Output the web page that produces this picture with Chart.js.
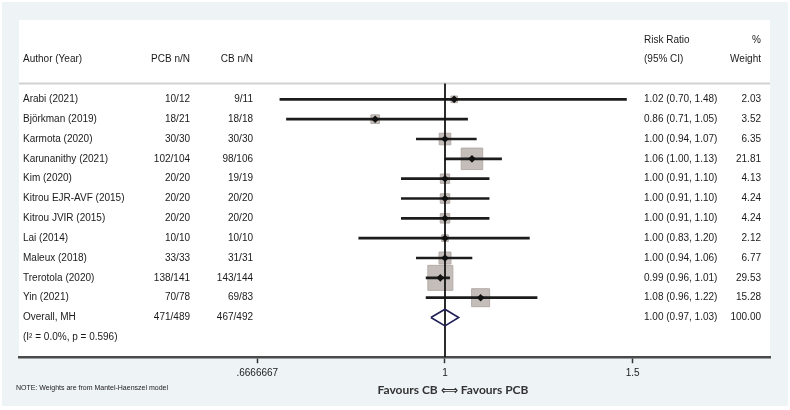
<!DOCTYPE html>
<html>
<head>
<meta charset="utf-8">
<script src="https://cdn.jsdelivr.net/npm/chart.js@4"></script>
<style>
  body { margin: 0; background: #fff; }
  #wrap { width: 790px; height: 410px; position: relative; }
</style>
</head>
<body>
<div id="wrap"><canvas id="myChart"></canvas></div>
<script>
const authors = ['Arabi (2021)', 'Björkman (2019)', 'Karmota (2020)', 'Karunanithy (2021)', 'Kim (2020)',
  'Kitrou EJR-AVF (2015)', 'Kitrou JVIR (2015)', 'Lai (2014)', 'Maleux (2018)', 'Trerotola (2020)', 'Yin (2021)'];
const pcb = ['10/12', '18/21', '30/30', '102/104', '20/20', '20/20', '20/20', '10/10', '33/33', '138/141', '70/78'];
const cb = ['9/11', '18/18', '30/30', '98/106', '19/19', '20/20', '20/20', '10/10', '31/31', '143/144', '69/83'];
const rr = [1.02, 0.86, 1.00, 1.06, 1.00, 1.00, 1.00, 1.00, 1.00, 0.99, 1.08];
const lo = [0.70, 0.71, 0.94, 1.00, 0.91, 0.91, 0.91, 0.83, 0.94, 0.96, 0.96];
const hi = [1.48, 1.05, 1.07, 1.13, 1.10, 1.10, 1.10, 1.20, 1.06, 1.01, 1.22];
const weights = [2.03, 3.52, 6.35, 21.81, 4.13, 4.24, 4.24, 2.12, 6.77, 29.53, 15.28];

const overall = { label: 'Overall, MH', pcb: '471/489', cb: '467/492', rr: 1.00, lo: 0.97, hi: 1.03, weight: 100.00 };
const hetText = '(I\u00B2 = 0.0%, p = 0.596)';

const xTicks = [0.6666667, 1, 1.5];
const xTickLabels = ['.6666667', '1', '1.5'];

const textColor = '#1a1a1a';
const tableFont = '10px "Liberation Sans", Arial, sans-serif';

const overallRow = rr.length;
const hetRow = rr.length + 1;

const tablePlugin = {
  id: 'table',
  beforeDraw(chart) {
    const ctx = chart.ctx, a = chart.chartArea;
    ctx.save();
    ctx.fillStyle = '#fff';
    ctx.fillRect(0, 0, chart.width, chart.height);
    ctx.fillStyle = '#eef3f6';
    ctx.fillRect(2, 2, chart.width - 4, chart.height - 6);
    ctx.fillStyle = '#fff';
    ctx.fillRect(a.left, a.top, a.right - a.left, a.bottom - a.top);
    ctx.restore();
  },
  beforeDatasetsDraw(chart) {
    const ctx = chart.ctx, a = chart.chartArea;
    const y = chart.scales.y.getPixelForValue(-0.8);
    ctx.save();
    ctx.strokeStyle = '#d2d2d2';
    ctx.lineWidth = 2;
    ctx.beginPath();
    ctx.moveTo(a.left, y);
    ctx.lineTo(a.right, y);
    ctx.stroke();
    ctx.restore();
  },
  afterDraw(chart) {
    const ctx = chart.ctx;
    const ys = chart.scales.y;
    const xs = chart.scales.x;
    const put = (txt, x, row, align) => {
      ctx.textAlign = align;
      ctx.fillText(txt, x, ys.getPixelForValue(row));
    };
    ctx.save();
    ctx.fillStyle = textColor;
    ctx.font = tableFont;
    ctx.textBaseline = 'middle';

    put('Risk Ratio', 644, -3, 'left');
    put('%', 761, -3, 'right');
    put('Author (Year)', 23, -2, 'left');
    put('PCB n/N', 190, -2, 'right');
    put('CB n/N', 253, -2, 'right');
    put('(95% CI)', 644, -2, 'left');
    put('Weight', 761, -2, 'right');

    authors.forEach((name, i) => {
      put(name, 23, i, 'left');
      put(pcb[i], 190, i, 'right');
      put(cb[i], 253, i, 'right');
      put(`${rr[i].toFixed(2)} (${lo[i].toFixed(2)}, ${hi[i].toFixed(2)})`, 644, i, 'left');
      put(weights[i].toFixed(2), 761, i, 'right');
    });

    put(overall.label, 23, overallRow, 'left');
    put(overall.pcb, 190, overallRow, 'right');
    put(overall.cb, 253, overallRow, 'right');
    put(`${overall.rr.toFixed(2)} (${overall.lo.toFixed(2)}, ${overall.hi.toFixed(2)})`, 644, overallRow, 'left');
    put(overall.weight.toFixed(2), 761, overallRow, 'right');
    put(hetText, 23, hetRow, 'left');

    // footer
    ctx.font = '7px "Liberation Sans", Arial, sans-serif';
    ctx.textAlign = 'left';
    ctx.fillText('NOTE: Weights are from Mantel-Haenszel model', 16, 388);

    ctx.font = 'bold 12px Lato, "DejaVu Sans", sans-serif';
    ctx.textAlign = 'center';
    ctx.fillStyle = '#333';
    ctx.fillText('Favours CB \u27FA Favours PCB', xs.getPixelForValue(1) + 8, 390);
    ctx.restore();
  }
};

document.addEventListener('DOMContentLoaded', () => {
  const k = 4.6;

  new Chart('myChart', {
    data: {
      datasets: [
        {
          type: 'scatter',
          label: 'point',
          data: rr.map((v, i) => ({ x: v, y: i })),
          pointStyle: 'rectRot',
          pointRadius: 3.8,
          backgroundColor: '#111',
          borderColor: '#111',
          borderWidth: 0,
          order: 1
        },
        {
          type: 'scatter',
          label: 'overall',
          data: [
            { x: overall.lo, y: overallRow },
            { x: overall.rr, y: overallRow - 0.42 },
            { x: overall.hi, y: overallRow },
            { x: overall.rr, y: overallRow + 0.42 },
            { x: overall.lo, y: overallRow }
          ],
          showLine: true,
          borderColor: '#1f1f55',
          borderWidth: 1.6,
          pointRadius: 0,
          order: 2
        },
        {
          type: 'scatter',
          label: 'null',
          data: [{ x: 1, y: -0.8 }, { x: 1, y: hetRow + 1 }],
          showLine: true,
          borderColor: '#151515',
          borderWidth: 1.8,
          pointRadius: 0,
          order: 2
        },
        {
          type: 'bar',
          label: 'ci',
          indexAxis: 'y',
          data: rr.map((v, i) => ({ x: [lo[i], hi[i]], y: i })),
          backgroundColor: '#1c1c1c',
          barThickness: 2,
          order: 3
        },
        {
          type: 'scatter',
          label: 'weight',
          data: rr.map((v, i) => ({ x: v, y: i })),
          pointStyle: 'rect',
          pointRadius: weights.map(w => k * Math.sqrt(w) / Math.SQRT2),
          backgroundColor: '#c5bdb9',
          borderColor: '#b3aba7',
          borderWidth: 1,
          order: 4
        }
      ]
    },
    plugins: [tablePlugin],
    options: {
      responsive: true,
      maintainAspectRatio: false,
      animation: false,
      layout: { padding: { left: 19, right: 20, top: 20, bottom: 26.8 } },
      plugins: { legend: { display: false }, tooltip: { enabled: false } },
      scales: {
        x: {
          type: 'logarithmic',
          position: 'bottom',
          min: 0.3984,
          max: 2.018,
          offset: false,
          afterBuildTicks: scale => { scale.ticks = xTicks.map(v => ({ value: v })); },
          ticks: {
            autoSkip: false,
            maxRotation: 0,
            padding: 4,
            color: textColor,
            font: { family: '"Liberation Sans", Arial, sans-serif', size: 10 },
            callback: (v, i) => xTickLabels[i]
          },
          grid: { display: true, drawOnChartArea: false, tickLength: 6, color: '#333', tickWidth: 1.5 },
          border: { display: true, color: '#4a4a4a', width: 2.5 }
        },
        y: {
          type: 'linear',
          reverse: true,
          min: -4,
          max: hetRow + 1,
          offset: false,
          display: false
        }
      }
    }
  });
});
</script>
</body>
</html>
